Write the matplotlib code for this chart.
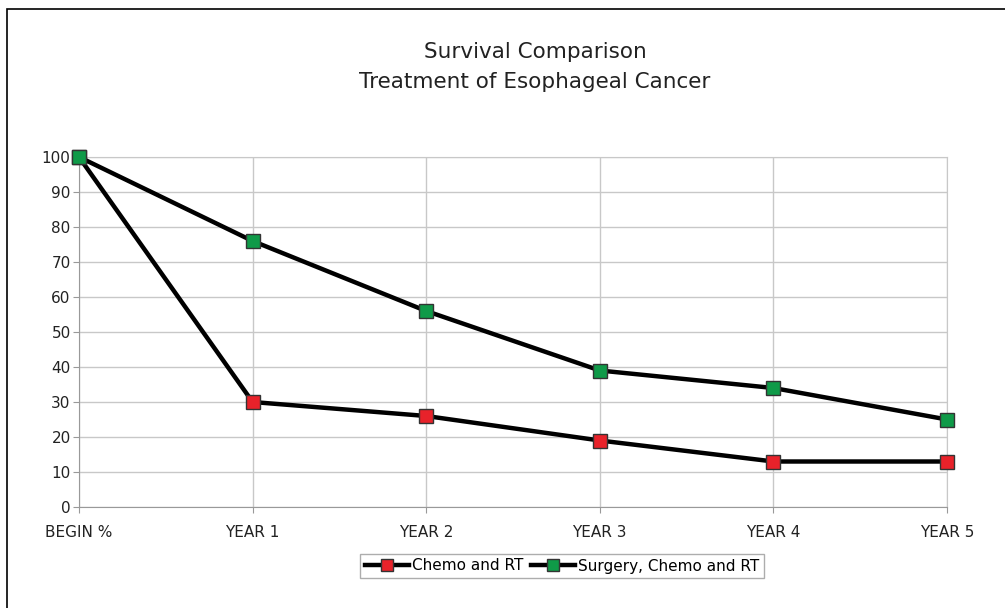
import matplotlib
matplotlib.use("Agg")
import matplotlib.pyplot as plt
from matplotlib.patches import Rectangle

categories = ["BEGIN %", "YEAR 1", "YEAR 2", "YEAR 3", "YEAR 4", "YEAR 5"]
chemo_rt = [100, 30, 26, 19, 13, 13]
surgery_chemo_rt = [100, 76, 56, 39, 34, 25]
yticks = [0, 10, 20, 30, 40, 50, 60, 70, 80, 90, 100]

plt.rcParams['font.family'] = ['DejaVu Sans']

fig = plt.figure(figsize=(10.05, 6.08), dpi=100)
# outer frame of the chart
fig.patches.append(Rectangle((7 / 1005, -0.01), 1.1, (608 - 9) / 608 + 0.01,
                             transform=fig.transFigure, fill=False,
                             edgecolor='black', linewidth=1.2))

ax = fig.add_axes([79 / 1005, (608 - 507) / 608, (947 - 79) / 1005, 350 / 608])
x = list(range(len(categories)))

ax.plot(x, chemo_rt, color='black', linewidth=3.2, marker='s', markersize=10,
        markerfacecolor='#e8222a', markeredgecolor='#333333', markeredgewidth=1,
        label='Chemo and RT', zorder=3, clip_on=False)
ax.plot(x, surgery_chemo_rt, color='black', linewidth=3.2, marker='s', markersize=10,
        markerfacecolor='#0f9a48', markeredgecolor='#333333', markeredgewidth=1,
        label='Surgery, Chemo and RT', zorder=3, clip_on=False)

ax.set_xlim(0, 5)
ax.set_ylim(0, 100)
ax.set_xticks(x)
ax.set_xticklabels(categories)
ax.set_yticks(yticks)
ax.grid(True, color='#c8c8c8', linewidth=1)
ax.set_axisbelow(True)
for s in ['top', 'right']:
    ax.spines[s].set_color('#c8c8c8')
for s in ['left', 'bottom']:
    ax.spines[s].set_color('#999999')
ax.tick_params(axis='both', labelsize=11, colors='#999999', labelcolor='#222222',
               length=4, direction='out')
ax.tick_params(axis='x', pad=9)
ax.tick_params(axis='y', pad=2)

fig.text(535 / 1005, 1 - 52 / 608, "Survival Comparison", ha='center', va='center',
         fontsize=15.5, color='#222222')
fig.text(535 / 1005, 1 - 82 / 608, "Treatment of Esophageal Cancer", ha='center',
         va='center', fontsize=15.5, color='#222222')

leg = fig.legend(loc='center', bbox_to_anchor=(562 / 1005, 1 - 566 / 608), ncol=2,
                 fontsize=11, frameon=True, fancybox=False, handlelength=2.9,
                 handletextpad=0.2, columnspacing=0.5, borderpad=0.3,
                 borderaxespad=0, markerscale=0.9)
leg.get_frame().set_edgecolor('#999999')
leg.get_frame().set_linewidth(1)

fig.savefig('out.png', dpi=100)
